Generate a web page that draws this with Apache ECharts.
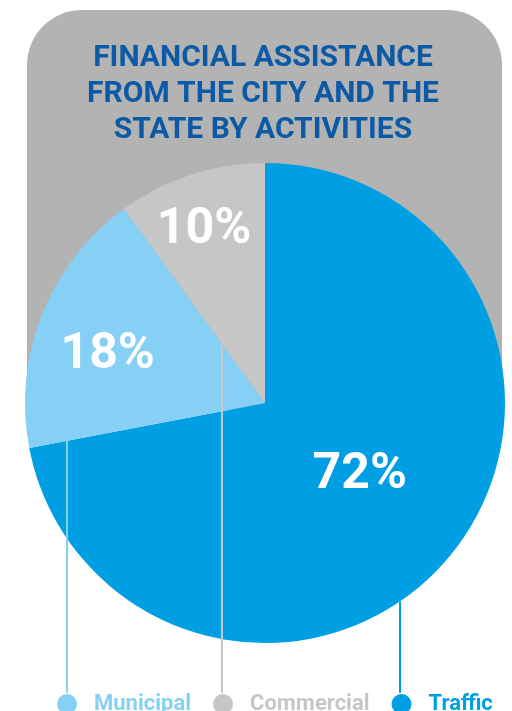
<!DOCTYPE html>
<html>
<head>
<meta charset="utf-8">
<style>
  html, body { margin: 0; padding: 0; background: #ffffff; }
  #chart { width: 512px; height: 711px; }
</style>
<script src="https://cdn.jsdelivr.net/npm/echarts@6/dist/echarts.min.js"></script>
</head>
<body>
<div id="chart"></div>
<script>
// ---- data ----
const categories = ['Traffic', 'Municipal', 'Commercial'];
const values = [72, 18, 10];
const legendOrder = ['Municipal', 'Commercial', 'Traffic'];
const titleLines = ['FINANCIAL ASSISTANCE', 'FROM THE CITY AND THE', 'STATE BY ACTIVITIES'];

// ---- style ----
const colorMap = { Traffic: '#009fe3', Municipal: '#86d0f5', Commercial: '#c6c6c6' };
const CX = 265, CY = 403, R = 240;
const labelShift = { Traffic: [0, -6], Municipal: [-43, -2], Commercial: [-23, -56] };
const leaderX = { Municipal: 67, Commercial: 222, Traffic: 400 };
const leaderBottom = 693;

const total = values.reduce((a, b) => a + b, 0);
// clockwise angle (deg from top) where each slice ends
const endAngle = {};
let acc = 0;
categories.forEach((c, i) => { acc += values[i]; endAngle[c] = 360 * acc / total; });

function yOnRay(x, angDeg) {
  const a = angDeg * Math.PI / 180;
  const t = (x - CX) / Math.sin(a);
  return CY - Math.cos(a) * t;
}
const leaderTop = {
  Municipal: yOnRay(leaderX.Municipal, endAngle.Traffic),
  Commercial: yOnRay(leaderX.Commercial, endAngle.Municipal),
  Traffic: CY + Math.sqrt(R * R - Math.pow(leaderX.Traffic - CX, 2))
};

const chart = echarts.init(document.getElementById('chart'), null, { renderer: 'canvas' });

const graphics = [
  {
    type: 'rect', z: -10, silent: true,
    shape: { x: 27, y: 10, width: 475, height: 400, r: [55, 55, 0, 0] },
    style: { fill: '#b3b3b3' }
  },
  {
    type: 'text', z: 10, x: 263, y: 40,
    style: {
      text: titleLines.join('\n'),
      textAlign: 'center',
      fill: '#0c5aa6',
      fontFamily: 'Roboto',
      fontWeight: 'bold',
      fontSize: 30,
      lineHeight: 36
    }
  }
];
legendOrder.forEach(name => {
  graphics.push({
    type: 'line', z: 100, silent: true,
    shape: { x1: leaderX[name], y1: leaderTop[name], x2: leaderX[name], y2: leaderBottom },
    style: { stroke: colorMap[name], lineWidth: 2 }
  });
});

chart.setOption({
  animation: false,
  graphic: graphics,
  legend: {
    data: legendOrder.map(n => ({ name: n, textStyle: { color: colorMap[n] } })),
    icon: 'circle',
    orient: 'horizontal',
    left: 57,
    top: 693,
    itemWidth: 20,
    itemHeight: 20,
    itemGap: 22,
    padding: 0,
    textStyle: { fontFamily: 'Roboto', fontWeight: 'bold', fontSize: 22, padding: [0, 0, 0, 12] }
  },
  series: [{
    type: 'pie',
    center: [CX, CY],
    radius: [0, R],
    startAngle: 90,
    clockwise: true,
    z: 2,
    emphasis: { disabled: true },
    itemStyle: { borderWidth: 0 },
    label: {
      show: true,
      position: 'inside',
      formatter: '{c}%',
      color: '#ffffff',
      fontFamily: 'Roboto',
      fontWeight: 'bold',
      fontSize: 50
    },
    labelLine: { show: false },
    labelLayout: function (p) {
      const s = labelShift[categories[p.dataIndex]];
      return { dx: s[0], dy: s[1] };
    },
    data: categories.map((c, i) => ({ name: c, value: values[i], itemStyle: { color: colorMap[c] } }))
  }]
});
</script>
</body>
</html>
